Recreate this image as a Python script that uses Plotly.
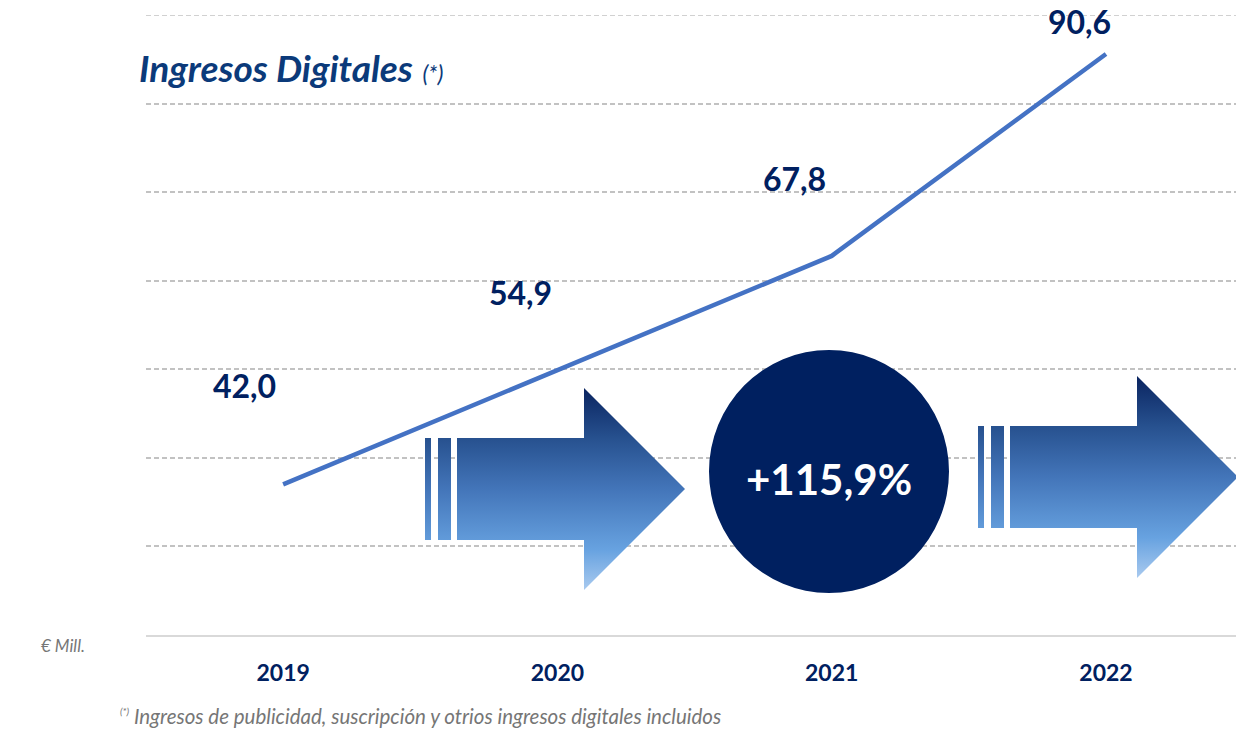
import plotly.graph_objects as go

# data
years = ["2019", "2020", "2021", "2022"]
ingresos = [42.0, 54.9, 67.8, 90.6]
value_labels = ["42,0", "54,9", "67,8", "90,6"]
growth_label = "+115,9%"

title_text = "Ingresos Digitales"
unit_text = "€ Mill."
footnote_text = "Ingresos de publicidad, suscripción y otrios ingresos digitales incluidos"

W, H = 1236, 729
ML, MR, MT, MB = 146, 0, 15, 94
NAVY = "#002060"
FONT = "Lato"
GRID = "#c2c2c2"
Y_MIN, Y_MAX = 25, 95

# hand placed label offsets (px), like the manual positioning in the original
label_shift = [(-39, 99), (-37, 78), (-37, 77), (-26, 32)]


def px_x(px):
    return (px - ML) / (W - ML - MR)


def px_y(py):
    return (H - MB - py) / (H - MT - MB)


fig = go.Figure()

fig.add_scatter(
    x=years,
    y=ingresos,
    mode="lines",
    line=dict(color="#4472c4", width=4.5),
    hoverinfo="skip",
    showlegend=False,
)

# category axis: annotations need the category index
for i, (v, lab, (dx, dy)) in enumerate(zip(ingresos, value_labels, label_shift)):
    fig.add_annotation(
        x=i, y=v, xref="x", yref="y", text=f"<b>{lab}</b>",
        showarrow=False, xshift=dx, yshift=dy,
        xanchor="center", yanchor="middle",
        font=dict(family=FONT, size=32, color=NAVY),
    )


# decoration: two gradient arrows, drawn on a pixel-sized overlay axis
def arrow_xy(x0, top):
    # bars + arrow body/head, polygons separated by None; y is pixel from top
    bars = [(x0, x0 + 6), (x0 + 13, x0 + 26)]
    xs, ys = [], []
    bt, bb = top + 50, top + 152
    for a, b in bars:
        xs += [a, b, b, a, a, None]
        ys += [bt, bt, bb, bb, bt, None]
    bx = x0 + 32
    hx = x0 + 159
    xs += [bx, hx, hx, hx + 101, hx, hx, bx, bx]
    ys += [bt, bt, top, top + 101, top + 202, bb, bb, bt]
    ys = [None if y is None else H - y for y in ys]
    return xs, ys, H - (top + 202), H - top


arrow_scale = [
    [0.0, "#a9caef"],
    [0.2, "#67a2e0"],
    [0.5, "#4375b9"],
    [0.75, "#27518f"],
    [1.0, "#0a2460"],
]
for x0, top in [(425, 388), (978, 376)]:
    xs, ys, y_lo, y_hi = arrow_xy(x0, top)
    fig.add_scatter(
        x=xs, y=ys, xaxis="x2", yaxis="y2",
        mode="lines", fill="toself", line=dict(width=0),
        fillgradient=dict(type="vertical", colorscale=arrow_scale, start=y_lo, stop=y_hi),
        hoverinfo="skip", showlegend=False,
    )

fig.add_shape(
    type="circle", xref="x2", yref="y2",
    x0=709, x1=949, y0=H - 593, y1=H - 350,
    fillcolor=NAVY, line=dict(width=0),
)
fig.add_annotation(
    x=px_x(829), y=px_y(479), xref="paper", yref="paper", text=f"<b>{growth_label}</b>",
    xanchor="center", yanchor="middle",
    showarrow=False, font=dict(family=FONT, size=42, color="white"),
)

# top gridline (plotly drops the grid line sitting on the plot edge)
fig.add_shape(
    type="line", xref="paper", yref="y", x0=0, x1=1, y0=Y_MAX, y1=Y_MAX,
    line=dict(color=GRID, width=1.5, dash="5px,3px"), layer="below",
)

fig.add_annotation(
    x=px_x(137), y=px_y(68), xref="paper", yref="paper", xanchor="left", yanchor="middle",
    text=f"<b><i>{title_text}</i></b> <i><span style='font-size:23px'>(*)</span></i>",
    showarrow=False, font=dict(family=FONT, size=37, color="#0b3a7a"),
)
fig.add_annotation(
    x=px_x(39), y=px_y(645), xref="paper", yref="paper", xanchor="left", yanchor="middle",
    text=f"<i>{unit_text}</i>", showarrow=False,
    font=dict(family=FONT, size=17, color="#767676"),
)
fig.add_annotation(
    x=px_x(118), y=px_y(716), xref="paper", yref="paper", xanchor="left", yanchor="middle",
    text=f"<i><sup><span style='font-size:10px'>(*)</span></sup> {footnote_text}</i>",
    showarrow=False, font=dict(family=FONT, size=20.5, color="#767676"),
)

fig.update_layout(
    width=W,
    height=H,
    margin=dict(l=ML, r=MR, t=MT, b=MB),
    paper_bgcolor="white",
    plot_bgcolor="white",
    showlegend=False,
    xaxis=dict(
        type="category",
        range=[-0.5, 3.474],
        showgrid=False,
        showline=True,
        linecolor="#d9d9d9",
        linewidth=2,
        ticks="outside",
        ticklen=16,
        tickcolor="rgba(0,0,0,0)",
        tickfont=dict(family=FONT, size=23, color=NAVY),
        tickprefix="<b>",
        ticksuffix="</b>",
    ),
    yaxis=dict(
        range=[Y_MIN, Y_MAX],
        tick0=5,
        dtick=10,
        showticklabels=False,
        showgrid=True,
        gridcolor=GRID,
        gridwidth=1.5,
        griddash="5px,3px",
        zeroline=False,
    ),
    xaxis2=dict(overlaying="x", range=[ML, W - MR], visible=False, fixedrange=True),
    yaxis2=dict(overlaying="y", range=[MB, H - MT], visible=False, fixedrange=True),
)

fig.write_html(
    "out.html",
    config={"displayModeBar": False},
    post_script="document.body.style.margin='0px';",
)
